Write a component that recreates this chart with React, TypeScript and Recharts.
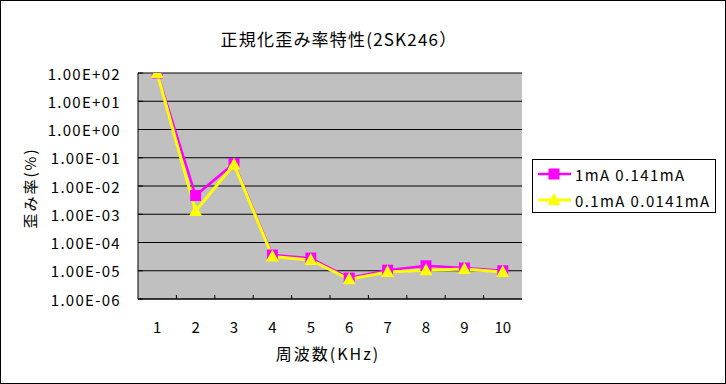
import React from "react";
import { CartesianGrid, Line, LineChart, XAxis, YAxis } from "recharts";

const freqs = [1, 2, 3, 4, 5, 6, 7, 8, 9, 10];
const seriesA = [100, 4.6e-3, 0.063, 3.6e-5, 2.8e-5, 5.5e-6, 1.05e-5, 1.5e-5, 1.25e-5, 1.0e-5];
const seriesB = [100, 1.3e-3, 0.058, 3.2e-5, 2.4e-5, 5.0e-6, 9e-6, 1.05e-5, 1.15e-5, 9e-6];
const yTicks = [1e-6, 1e-5, 1e-4, 1e-3, 1e-2, 1e-1, 1e0, 1e1, 1e2];

const nameA = "1mA 0.141mA";
const nameB = "0.1mA 0.0141mA";

const data = freqs.map((f, i) => ({ f, a: seriesA[i], b: seriesB[i] }));

const FONT = '"Noto Sans CJK JP", "Noto Sans", sans-serif';
const W = 726;
const H = 384;
const PLOT_LEFT = 138;
const PLOT_RIGHT = 522;
const PLOT_TOP = 73;
const PLOT_BOTTOM = 299;
const STEP = (PLOT_RIGHT - PLOT_LEFT) / freqs.length;

const fmt = (v: number) => {
  const e = Math.round(Math.log10(v));
  const s = e < 0 ? "-" : "+";
  return `1.00E${s}${String(Math.abs(e)).padStart(2, "0")}`;
};

const YTick = (props: any) => {
  const { y, payload } = props;
  return (
    <g>
      <line x1={PLOT_LEFT} x2={PLOT_LEFT + 5} y1={y} y2={y} stroke="#000" />
      <text x={121} y={y} textAnchor="end" dominantBaseline="central" fontSize={15} fontFamily={FONT} letterSpacing={1.3} fill="#000">
        {fmt(payload.value)}
      </text>
    </g>
  );
};

const XTick = (props: any) => {
  const { x, payload, index } = props;
  return (
    <g>
      {index < freqs.length - 1 && (
        <line x1={x + STEP / 2} x2={x + STEP / 2} y1={PLOT_BOTTOM} y2={PLOT_BOTTOM - 4} stroke="#000" />
      )}
      <text x={x} y={PLOT_BOTTOM + 27} textAnchor="middle" dominantBaseline="central" fontSize={15} fontFamily={FONT} fill="#000">
        {payload.value}
      </text>
    </g>
  );
};

const Square = (props: any) => {
  const { cx, cy } = props;
  if (cx == null || cy == null) return null;
  return <rect x={cx - 5.5} y={cy - 5.5} width={11} height={11} fill="#ff00ff" />;
};

const Triangle = (props: any) => {
  const { cx, cy } = props;
  if (cx == null || cy == null) return null;
  return <polygon points={`${cx},${cy - 7} ${cx + 6.5},${cy + 5} ${cx - 6.5},${cy + 5}`} fill="#ffff00" />;
};

export default function App() {
  return (
    <div style={{ position: "absolute", left: 0, top: 0, width: W, height: H, background: "#fff", fontFamily: FONT }}>
      <LineChart
        width={W}
        height={H}
        data={data}
        margin={{ top: PLOT_TOP, right: W - PLOT_RIGHT, bottom: 55, left: 0 }}
      >
        <CartesianGrid vertical={false} stroke="#000" fill="#c0c0c0" fillOpacity={1} />
        <XAxis
          dataKey="f"
          type="number"
          domain={[0.5, 10.5]}
          ticks={freqs}
          allowDataOverflow
          height={30}
          stroke="#000"
          tickLine={false}
          tick={<XTick />}
          interval={0}
        />
        <XAxis xAxisId="top" orientation="top" type="number" domain={[0.5, 10.5]} height={0} stroke="#808080" tick={false} tickLine={false} />
        <YAxis
          scale="log"
          domain={[1e-6, 1e2]}
          ticks={yTicks}
          allowDataOverflow
          width={PLOT_LEFT}
          stroke="#000"
          tickLine={false}
          tick={<YTick />}
          interval={0}
        />
        <YAxis yAxisId="right" orientation="right" width={0} stroke="#808080" tick={false} tickLine={false} />
        <Line dataKey="a" name={nameA} stroke="#ff00ff" strokeWidth={2.5} dot={<Square />} activeDot={false} isAnimationActive={false} />
        <Line dataKey="b" name={nameB} stroke="#ffff00" strokeWidth={3} dot={<Triangle />} activeDot={false} isAnimationActive={false} />
      </LineChart>

      <div style={{ position: "absolute", left: 0, top: 0, width: W, height: H, border: "1px solid #000", boxSizing: "border-box", pointerEvents: "none" }} />

      <div style={{ position: "absolute", left: 205, top: 27, width: 268, textAlign: "center", fontSize: 17, lineHeight: "24px", letterSpacing: 1.2 }}>
        正規化歪み率特性(2SK246）
      </div>
      <div style={{ position: "absolute", left: 228, top: 341, width: 200, textAlign: "center", fontSize: 16, lineHeight: "24px", letterSpacing: 2 }}>
        周波数(KHz)
      </div>
      <div
        style={{
          position: "absolute",
          left: 30,
          top: 188,
          fontSize: 15,
          lineHeight: "20px",
          whiteSpace: "nowrap",
          letterSpacing: 2,
          transform: "translate(-50%, -50%) rotate(-90deg)",
        }}
      >
        歪み率(%)
      </div>

      <div
        style={{
          position: "absolute",
          left: 532,
          top: 159,
          width: 184,
          height: 54,
          border: "1px solid #000",
          boxSizing: "border-box",
          background: "#fff",
          fontSize: 15,
        }}
      >
        <svg width={182} height={52} style={{ position: "absolute", left: 0, top: 0 }}>
          <line x1={5} x2={38} y1={14} y2={14} stroke="#ff00ff" strokeWidth={2.5} />
          <rect x={15.5} y={8.5} width={11} height={11} fill="#ff00ff" />
          <line x1={5} x2={38} y1={40} y2={40} stroke="#ffff00" strokeWidth={3} />
          <polygon points="21,33 27.5,45 14.5,45" fill="#ffff00" />
          <text x={42} y={14} dominantBaseline="central" fontSize={15} fontFamily={FONT} letterSpacing={1.4} fill="#000">{nameA}</text>
          <text x={42} y={40} dominantBaseline="central" fontSize={15} fontFamily={FONT} letterSpacing={1.4} fill="#000">{nameB}</text>
        </svg>
      </div>
    </div>
  );
}
